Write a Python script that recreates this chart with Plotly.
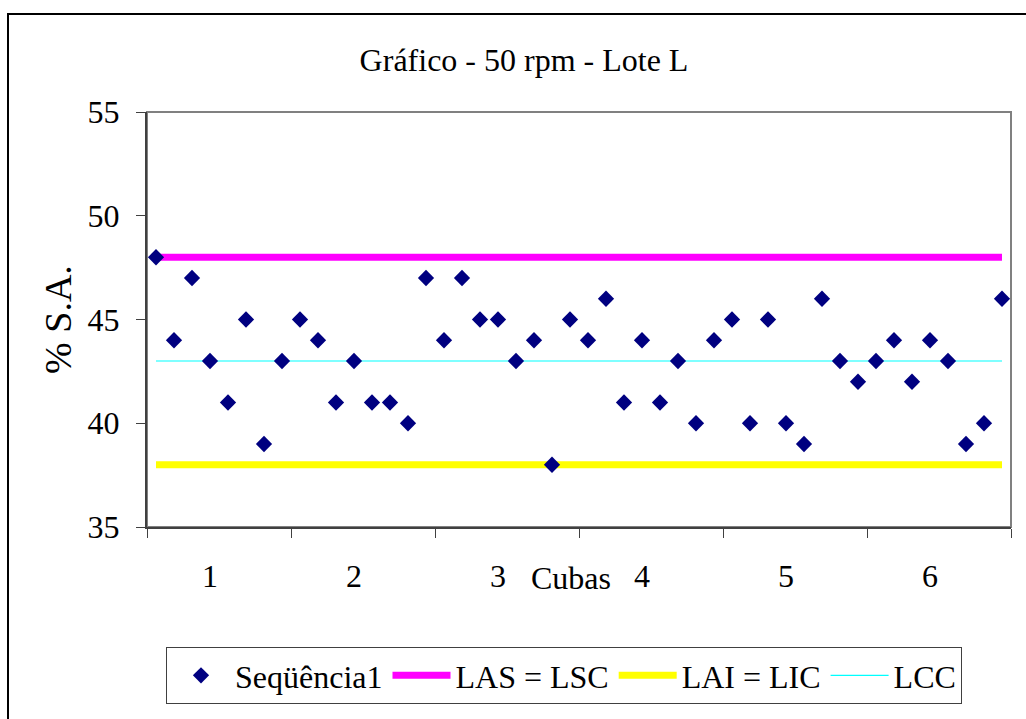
import plotly.graph_objects as go

# Data
amostra = list(range(1, 49))
valores = [48, 44, 47, 43, 41, 45, 39, 43,
           45, 44, 41, 43, 41, 41, 40, 47,
           44, 47, 45, 45, 43, 44, 38, 45,
           44, 46, 41, 44, 41, 43, 40, 44,
           45, 40, 45, 40, 39, 46, 43, 42,
           43, 44, 42, 44, 43, 39, 40, 46]
las = [48] * 48
lai = [38] * 48
lcc = [43] * 48
cuba_labels = ["1", "2", "3", "4", "5", "6"]
cuba_pos = [4, 12, 20, 28, 36, 44]
y_ticks = [35, 40, 45, 50, 55]

FONT = "Liberation Serif"
FS = 32

fig = go.Figure()
fig.add_trace(go.Scatter(x=amostra, y=las, mode="lines", name="LAS = LSC", legendrank=2,
                         line=dict(color="#FF00FF", width=7)))
fig.add_trace(go.Scatter(x=amostra, y=lai, mode="lines", name="LAI = LIC", legendrank=3,
                         line=dict(color="#FFFF00", width=7)))
fig.add_trace(go.Scatter(x=amostra, y=lcc, mode="lines", name="LCC", legendrank=4,
                         line=dict(color="#00FFFF", width=1.2)))
fig.add_trace(go.Scatter(x=amostra, y=valores, mode="markers", name="Seqüência1", legendrank=1,
                         marker=dict(symbol="diamond", size=12.5, color="#000080")))

fig.update_layout(
    width=1026, height=719,
    margin=dict(l=147, r=15, t=112, b=192, autoexpand=False),
    paper_bgcolor="white", plot_bgcolor="white",
    font=dict(family=FONT, size=FS, color="black"),
    title=dict(text="Gráfico - 50 rpm - Lote L", x=(362 + 686) / 2 / 1026, xanchor="center",
               y=1 - 60 / 719, yanchor="middle", font=dict(size=FS)),
    showlegend=True,
    legend=dict(orientation="h", x=(166 - 147) / 864, xanchor="left",
                y=(527 - 647) / 415, yanchor="top", traceorder="normal",
                bordercolor="#404040", borderwidth=1, font=dict(size=FS),
                itemwidth=58, tracegroupgap=0),
    xaxis=dict(range=[0.5, 48.5], tickmode="array", tickvals=cuba_pos, ticktext=cuba_labels,
               ticks="", showgrid=False, zeroline=False, showline=True, linecolor="#404040",
               linewidth=2, ticklabelstandoff=20,
               minor=dict(tickmode="array", tickvals=[0.5 + 8 * k for k in range(7)],
                          ticks="outside", ticklen=9, tickcolor="#404040", tickwidth=1)),
    yaxis=dict(range=[35, 55], tickvals=y_ticks, ticks="outside", ticklen=9,
               tickcolor="#404040", showgrid=False, zeroline=False, showline=True,
               linecolor="#404040", linewidth=2, ticklabelstandoff=10,
               title=dict(text="% S.A.", standoff=4)),
    annotations=[dict(text="Cubas", xref="paper", yref="paper", x=(571 - 147) / 864,
                      y=(527 - 578) / 415, xanchor="center", yanchor="middle",
                      showarrow=False, font=dict(size=FS))],
    shapes=[
        dict(type="rect", xref="paper", yref="paper", x0=0, x1=1, y0=0, y1=1,
             line=dict(color="#808080", width=2), layer="below"),
        dict(type="rect", xref="paper", yref="paper", x0=(8 - 147) / 864, x1=(1040 - 147) / 864,
             y0=(527 - 740) / 415, y1=(527 - 14) / 415, line=dict(color="black", width=2)),
    ],
)

fig.write_html("out.html")
